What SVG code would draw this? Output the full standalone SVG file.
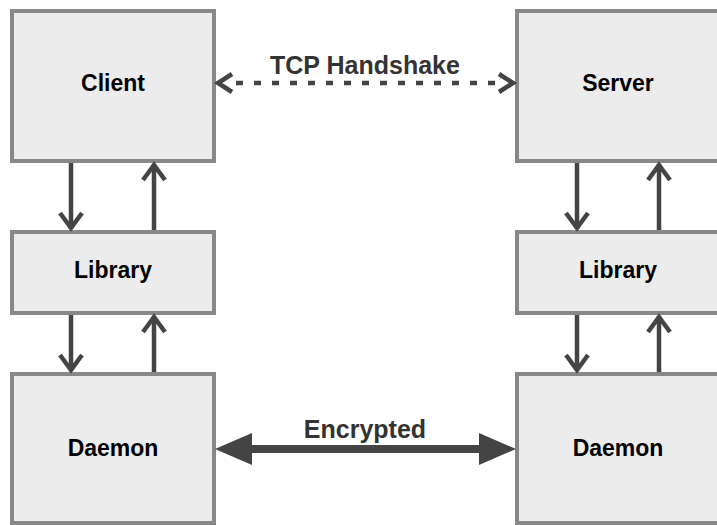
<svg xmlns="http://www.w3.org/2000/svg" width="717" height="525" viewBox="0 0 717 525">
  <defs>
    <style>
      .box { fill: #ececec; stroke: #888888; stroke-width: 4; }
      .lbl { font-family: "Liberation Sans", Arial, sans-serif; font-weight: bold; font-size: 23px; fill: #000; text-anchor: middle; }
      .elbl { font-family: "Liberation Sans", Arial, sans-serif; font-weight: bold; font-size: 25px; fill: #333; text-anchor: middle; }
      .link { stroke: #444; stroke-width: 4.5; fill: none; }
      .head { stroke: #444; stroke-width: 4.5; fill: none; stroke-linecap: butt; stroke-linejoin: miter; }
    </style>
  </defs>
  <rect width="717" height="525" fill="#ffffff"/>

  <g id="client"><rect class="box" x="12" y="11" width="202" height="150"/><text class="lbl" x="113" y="91">Client</text></g>
  <g id="server"><rect class="box" x="517" y="11" width="202" height="150"/><text class="lbl" x="618" y="91">Server</text></g>
  <g id="library-left"><rect class="box" x="12" y="232" width="202" height="81"/><text class="lbl" x="113" y="278">Library</text></g>
  <g id="library-right"><rect class="box" x="517" y="232" width="202" height="81"/><text class="lbl" x="618" y="278">Library</text></g>
  <g id="daemon-left"><rect class="box" x="12" y="374" width="202" height="149"/><text class="lbl" x="113" y="456">Daemon</text></g>
  <g id="daemon-right"><rect class="box" x="517" y="374" width="202" height="149"/><text class="lbl" x="618" y="456">Daemon</text></g>

  <g id="connectors">
    <!-- left column -->
    <line class="link" x1="71" y1="163" x2="71" y2="229"/>
    <polyline class="head" points="60,213 71,228 82,213"/>
    <line class="link" x1="154" y1="230" x2="154" y2="164"/>
    <polyline class="head" points="143,180 154,165 165,180"/>
    <line class="link" x1="71" y1="315" x2="71" y2="371"/>
    <polyline class="head" points="60,355 71,370 82,355"/>
    <line class="link" x1="154" y1="372" x2="154" y2="316"/>
    <polyline class="head" points="143,332 154,317 165,332"/>
    <!-- right column -->
    <line class="link" x1="577" y1="163" x2="577" y2="229"/>
    <polyline class="head" points="566,213 577,228 588,213"/>
    <line class="link" x1="659" y1="230" x2="659" y2="164"/>
    <polyline class="head" points="648,180 659,165 670,180"/>
    <line class="link" x1="577" y1="315" x2="577" y2="371"/>
    <polyline class="head" points="566,355 577,370 588,355"/>
    <line class="link" x1="659" y1="372" x2="659" y2="316"/>
    <polyline class="head" points="648,332 659,317 670,332"/>
    <!-- TCP handshake -->
    <line class="link" x1="236" y1="83" x2="500" y2="83" stroke-dasharray="7 11"/>
    <polyline class="head" points="232,74 218,83 232,92"/>
    <polyline class="head" points="499,74 513,83 499,92"/>
    <text class="elbl" x="365" y="74">TCP Handshake</text>
    <!-- Encrypted -->
    <line x1="245" y1="449" x2="487" y2="449" stroke="#444" stroke-width="8"/>
    <polygon points="215,449 252,433 252,465" fill="#444"/>
    <polygon points="516,449 479,433 479,465" fill="#444"/>
    <text class="elbl" x="365" y="438">Encrypted</text>
  </g>
</svg>
